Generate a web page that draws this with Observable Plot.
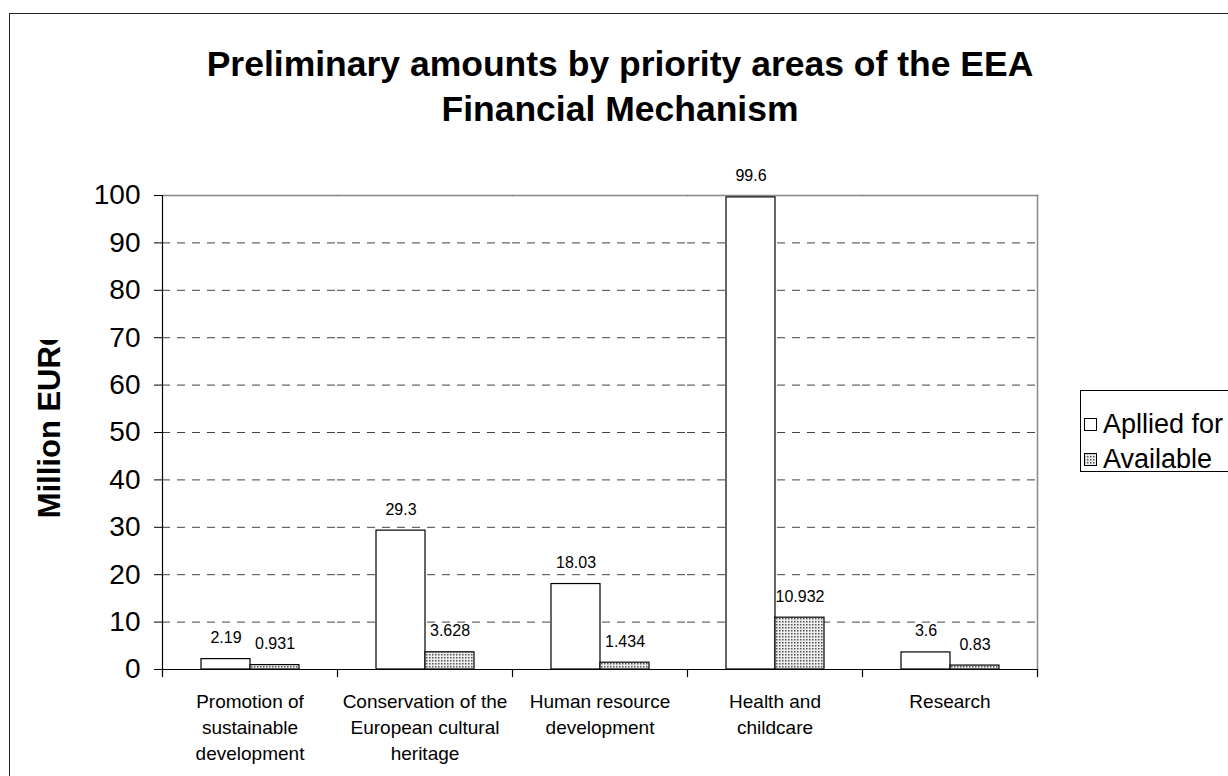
<!DOCTYPE html>
<html>
<head>
<meta charset="utf-8">
<script src="https://cdn.jsdelivr.net/npm/d3@7"></script>
<script src="https://cdn.jsdelivr.net/npm/@observablehq/plot@0.6"></script>
<style>
  html, body { margin: 0; padding: 0; background: #fff; }
  #wrap { position: relative; width: 1228px; height: 776px; overflow: hidden; font-family: "Liberation Sans", Arial, sans-serif; color: #000; }
  #border { position: absolute; left: 9px; top: 13px; width: 1400px; height: 1000px; border-left: 1px solid #222; border-top: 1px solid #222; }
  #title { position: relative; height: 150px; box-sizing: border-box; padding-top: 42px; text-align: center; font-weight: bold; font-size: 35.5px; line-height: 45px; padding-left: 12px; }
  #ylab { position: absolute; left: 30px; top: 340px; width: 40px; height: 178px; overflow: hidden; }
  #ylab div { position: absolute; left: 2px; bottom: 0; writing-mode: vertical-rl; transform: rotate(180deg); white-space: nowrap; font-weight: bold; font-size: 31px; line-height: 36px; }
  #legend { position: absolute; left: 1080px; top: 390px; width: 220px; height: 80px; border: 1px solid #000; background: #fff; }
  .item { position: absolute; left: 3px; font-size: 27px; line-height: 32px; white-space: nowrap; }
  .item svg { position: absolute; left: 0; top: 10px; }
  .item span { position: absolute; left: 19px; top: 0; }
</style>
</head>
<body>
<svg width="0" height="0" style="position:absolute">
  <defs>
    <pattern id="dots" width="3" height="3" patternUnits="userSpaceOnUse">
      <rect width="3" height="3" fill="#eeeeee"></rect>
      <rect width="1.5" height="1.5" fill="#555555"></rect>
    </pattern>
  </defs>
</svg>
<div id="wrap">
  <div id="border"></div>
  <div id="title">Preliminary amounts by priority areas of the EEA<br>Financial Mechanism</div>
  <div id="chart"></div>
  <div id="ylab"><div>Million EURO</div></div>
  <div id="legend"></div>
</div>
<script>
const categories = [
  "Promotion of sustainable development",
  "Conservation of the European cultural heritage",
  "Human resource development",
  "Health and childcare",
  "Research"
];
const categoryLabels = [
  "Promotion of\nsustainable\ndevelopment",
  "Conservation of the\nEuropean cultural\nheritage",
  "Human resource\ndevelopment",
  "Health and\nchildcare",
  "Research"
];
const series = ["Apllied for", "Available"];
const appliedFor = [2.19, 29.3, 18.03, 99.6, 3.6];
const available = [0.931, 3.628, 1.434, 10.932, 0.83];
const yTicks = [0, 10, 20, 30, 40, 50, 60, 70, 80, 90, 100];
const gridValues = [10, 20, 30, 40, 50, 60, 70, 80, 90];

const rows = [];
categories.forEach((c, i) => {
  rows.push({cat: c, series: series[0], value: appliedFor[i]});
  rows.push({cat: c, series: series[1], value: available[i]});
});
const labelOf = new Map(categories.map((c, i) => [c, categoryLabels[i]]));
const fills = {[series[0]]: "white", [series[1]]: "url(#dots)"};

const plotH = 669 - 195;

const chart = Plot.plot({
  width: 1228,
  height: 626,
  marginTop: 45,
  marginBottom: 107,
  marginLeft: 160,
  marginRight: 190,
  style: {fontFamily: "'Liberation Sans', Arial, sans-serif", color: "#000", background: "transparent"},
  fx: {domain: categories, padding: 0},
  x: {domain: series, paddingInner: 0, paddingOuter: 0.756, axis: null},
  y: {domain: [0, 100]},
  marks: [
    Plot.ruleY(gridValues, {stroke: "#444", strokeWidth: 1, strokeDasharray: "8,7"}),
    Plot.frame({anchor: "top", stroke: "#888", strokeWidth: 1.5}),
    Plot.frame({anchor: "right", stroke: "#888", strokeWidth: 1.5, facetAnchor: "right"}),
    Plot.barY(rows.filter(d => d.series === series[0]), {fx: "cat", x: "series", y: "value", fill: fills[series[0]], stroke: "#000", strokeWidth: 1.2}),
    Plot.barY(rows.filter(d => d.series === series[1]), {fx: "cat", x: "series", y: "value", fill: fills[series[1]], stroke: "#000", strokeWidth: 1.2}),
    Plot.text(rows, {fx: "cat", x: "series", y: "value", text: d => String(d.value), dy: -16, lineAnchor: "bottom", fontSize: 16, fill: "#000"}),
    Plot.ruleY([0], {stroke: "#000", strokeWidth: 1.2}),
    Plot.frame({anchor: "left", stroke: "#000", strokeWidth: 1.2, facetAnchor: "left"}),
    Plot.frame({anchor: "left", stroke: "#000", strokeWidth: 1.2, insetTop: plotH, insetBottom: -7}),
    Plot.frame({anchor: "right", stroke: "#000", strokeWidth: 1.2, insetTop: plotH, insetBottom: -7, facetAnchor: "right"}),
    Plot.axisY({ticks: yTicks, tickSize: 8, tickPadding: 14, fontSize: 28, label: null, stroke: "#000"}),
    Plot.axisFx({anchor: "bottom", tickSize: 0, tickPadding: 20, fontSize: 19, lineHeight: 1.37, label: null, tickFormat: d => labelOf.get(d)})
  ]
});
document.getElementById("chart").appendChild(chart);

// legend
const legend = document.getElementById("legend");
series.forEach((s, i) => {
  const item = document.createElement("div");
  item.className = "item";
  item.style.top = (17 + i * 35) + "px";
  item.innerHTML = `<svg width="14" height="14"><rect x="0.5" y="0.5" width="12" height="12" fill="${fills[s]}" stroke="#000" stroke-width="1"></rect></svg><span>${s}</span>`;
  legend.appendChild(item);
});
</script>
</body>
</html>
